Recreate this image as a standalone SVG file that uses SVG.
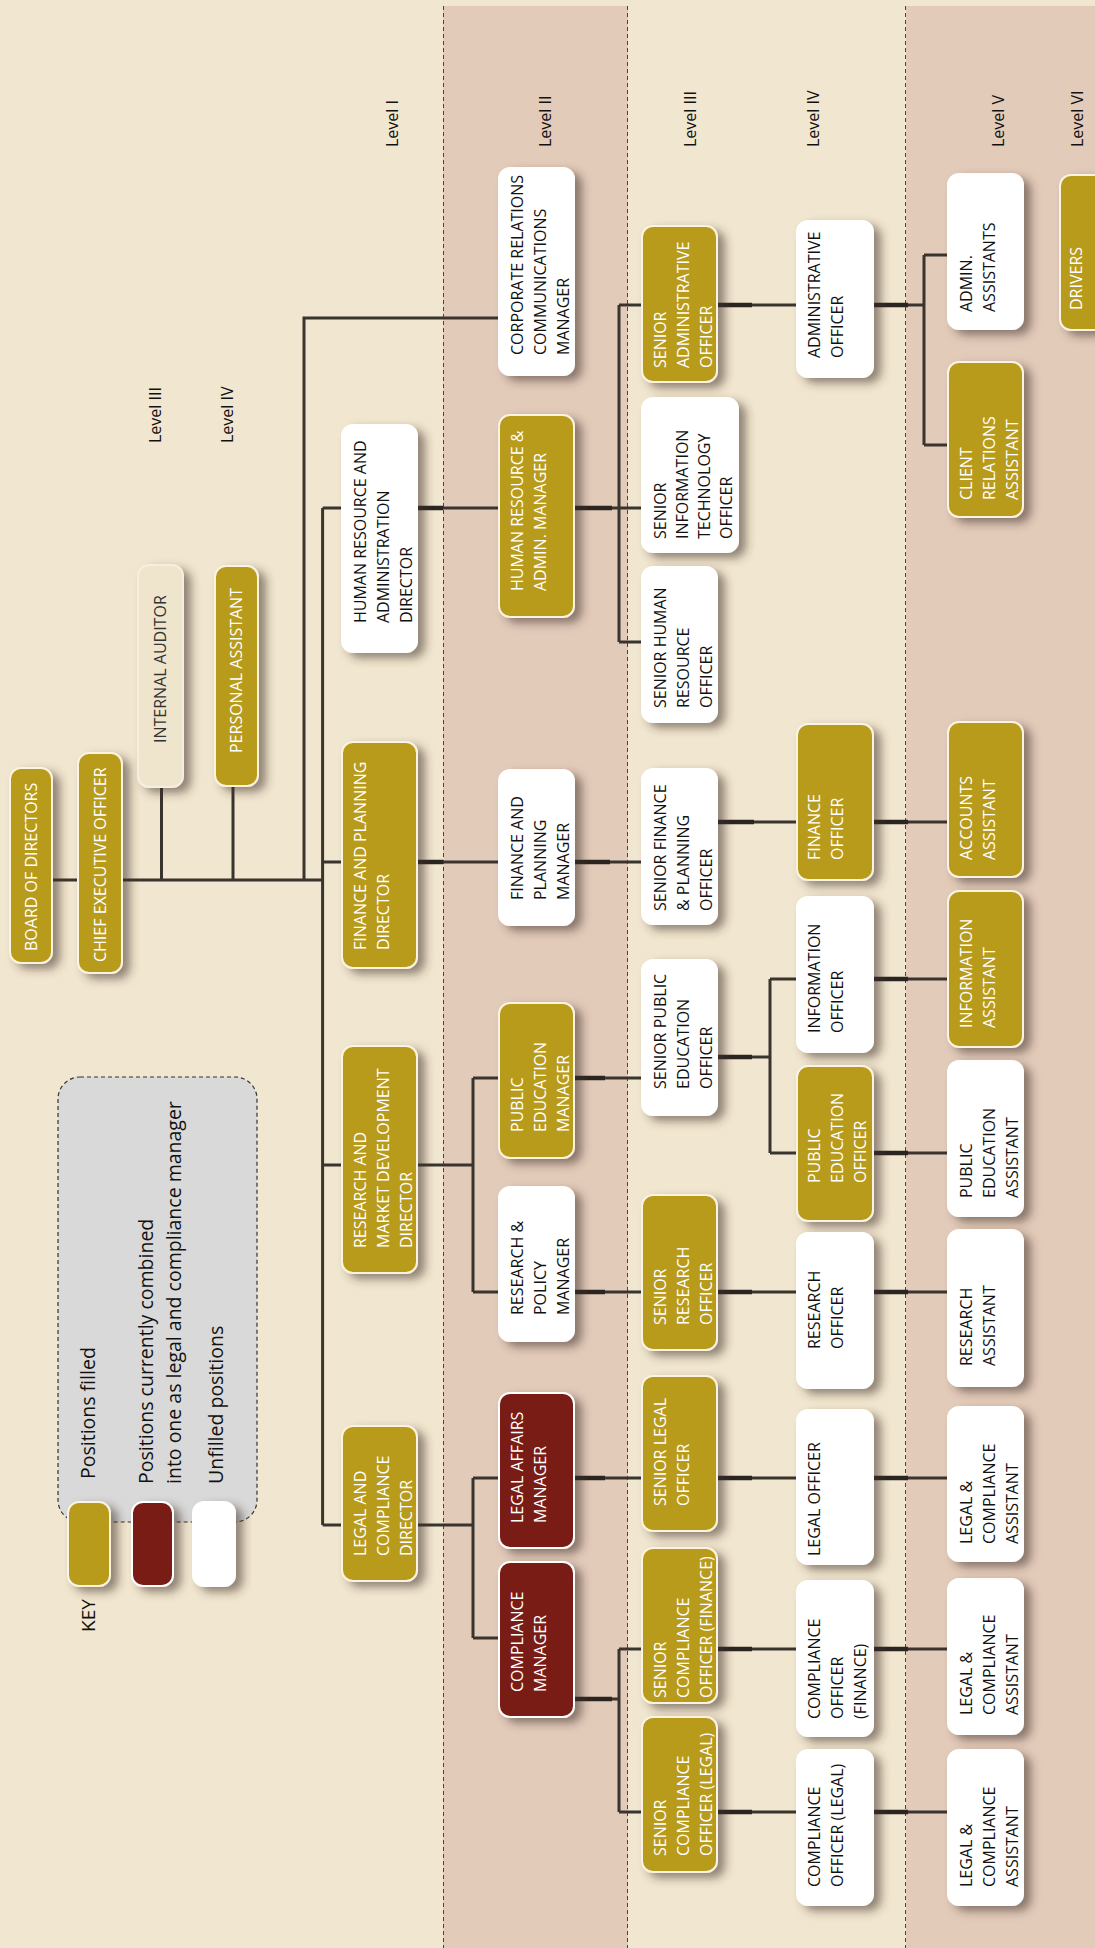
<svg xmlns="http://www.w3.org/2000/svg" width="1095" height="1948" viewBox="0 0 1095 1948">
<defs>
<filter id="sh" x="-40%" y="-20%" width="180%" height="140%">
<feDropShadow dx="7" dy="5" stdDeviation="5" flood-color="#3d3025" flood-opacity="0.55"/>
</filter>
<style>
.band{fill:#e3cbba}
.dl{stroke:#4a4440;stroke-width:1;stroke-dasharray:4 3;fill:none}
.node rect{rx:11px;ry:11px;stroke-width:2;filter:url(#sh)}
.gold rect{fill:#b99b1f;stroke:#fbf4e2}
.white rect{fill:#ffffff;stroke:#ffffff}
.maroon rect{fill:#7a1e19;stroke:#ffffff}
.cream rect{fill:#efe5cd;stroke:#f6efdf}
.node text{font-family:"Open Sans","Liberation Sans",sans-serif;font-size:16px}
.gold text,.maroon text{fill:#ffffff}
.white text{fill:#111111}
.cream text{fill:#333333}
.lvl{font-family:"Open Sans","Liberation Sans",sans-serif;font-size:16px;fill:#111}
.key{font-family:"Open Sans","Liberation Sans",sans-serif;font-size:19.5px;fill:#111}
#connectors path{stroke:#3a342e;stroke-width:3;fill:none}
#connectors path.thick{stroke:#2a2520;stroke-width:4.5}
</style>
</defs>
<rect width="1095" height="1948" fill="#f1e6cf"/>
<rect class="band" x="443" y="6" width="185" height="1942"/>
<rect class="band" x="906" y="6" width="189" height="1942"/>
<path class="dl" d="M443.5 6V1948M627.5 6V1948M905.5 6V1948"/>

<g id="levels">
<text class="lvl" transform="translate(398,147) rotate(-90)">Level I</text>
<text class="lvl" transform="translate(551,147) rotate(-90)">Level II</text>
<text class="lvl" transform="translate(696,147) rotate(-90)">Level III</text>
<text class="lvl" transform="translate(819,147) rotate(-90)">Level IV</text>
<text class="lvl" transform="translate(1004,147) rotate(-90)">Level V</text>
<text class="lvl" transform="translate(1083,147) rotate(-90)">Level VI</text>
<text class="lvl" transform="translate(161,443) rotate(-90)">Level III</text>
<text class="lvl" transform="translate(233,443) rotate(-90)">Level IV</text>
</g>

<g id="key">
<rect x="58" y="1077" width="199" height="445" rx="22" fill="#d9d9d9" stroke="#333" stroke-width="1.2" stroke-dasharray="4 3"/>
<g class="node gold"><rect x="68" y="1502" width="42" height="84"/></g>
<g class="node maroon"><rect x="132" y="1502" width="41" height="84"/></g>
<g class="node white"><rect x="193" y="1502" width="42" height="84"/></g>
<text class="key" transform="translate(95,1479) rotate(-90)">Positions filled</text>
<text class="key" transform="translate(153,1484) rotate(-90)">Positions currently combined<tspan x="0" y="28">into one as legal and compliance manager</tspan></text>
<text class="key" transform="translate(223,1484) rotate(-90)">Unfilled positions</text>
<text class="key" style="font-size:19px" transform="translate(95,1632) rotate(-90)">KEY</text>
</g>

<g id="connectors">
<path d="M52 880H78"/>
<path d="M122 880H322.6"/>
<path d="M161.5 787V880"/>
<path d="M233 786V880"/>
<path d="M304 880V318H499"/>
<path d="M322.6 508V1525"/>
<path d="M322.6 508H342M322.6 862H342M322.6 1165H342M322.6 1525H342"/>
<path d="M417 508H499"/>
<path d="M417 862H499"/>
<path d="M417 1165H473M473 1078V1292M473 1078H499M473 1292H499"/>
<path d="M417 1525H473M473 1478V1638M473 1478H499M473 1638H499"/>
<path d="M574 508H642M619 305V642M619 305H642M619 642H642"/>
<path d="M574 862H642"/>
<path d="M574 1078H642"/>
<path d="M574 1292H642"/>
<path d="M574 1478H642"/>
<path d="M574 1699H619M619 1649V1812M619 1649H642M619 1812H642"/>
<path d="M717 305H797"/>
<path d="M717 822H797"/>
<path d="M717 1057H770M770 979V1153M770 979H797M770 1153H797"/>
<path d="M717 1292H797"/>
<path d="M717 1478H797"/>
<path d="M717 1649H797"/>
<path d="M717 1812H797"/>
<path d="M873 305H924M924 255V445M924 255H948M924 445H948"/>
<path d="M873 822H948"/>
<path d="M873 979H948"/>
<path d="M873 1153H948"/>
<path d="M873 1292H948"/>
<path d="M873 1478H948"/>
<path d="M873 1649H948"/>
<path d="M873 1812H948"/>
<path class="thick" d="M417 508H443M417 862H443M574 508H612M574 862H610M574 1078H605M574 1292H605M574 1478H605M574 1699H612M717 305H752M717 822H754M717 1057H752M717 1292H752M717 1478H752M717 1649H752M717 1812H752M873 305H908M873 822H908M873 979H908M873 1153H908M873 1292H908M873 1478H908M873 1649H908M873 1812H908"/>
</g>

<g id="n-board" class="node gold"><rect x="10" y="768" width="42" height="195"/><text transform="translate(36.7,951) rotate(-90)">BOARD OF DIRECTORS</text></g>
<g id="n-ceo" class="node gold"><rect x="78" y="753" width="44" height="220"/><text transform="translate(105.7,962) rotate(-90)">CHIEF EXECUTIVE OFFICER</text></g>
<g id="n-auditor" class="node cream"><rect x="138" y="565" width="45" height="222"/><text transform="translate(166.2,743) rotate(-90)">INTERNAL AUDITOR</text></g>
<g id="n-pa" class="node gold"><rect x="215" y="566" width="43" height="220"/><text transform="translate(242.2,753) rotate(-90)">PERSONAL ASSISTANT</text></g>

<g id="n-hrdir" class="node white"><rect x="342" y="425" width="75" height="227"/><text transform="translate(365.5,623) rotate(-90)">HUMAN RESOURCE AND<tspan x="0" y="23">ADMINISTRATION</tspan><tspan x="0" y="46">DIRECTOR</tspan></text></g>
<g id="n-findir" class="node gold"><rect x="342" y="742" width="75" height="226"/><text transform="translate(365.5,950) rotate(-90)">FINANCE AND PLANNING<tspan x="0" y="23">DIRECTOR</tspan></text></g>
<g id="n-resdir" class="node gold"><rect x="342" y="1046" width="75" height="227"/><text transform="translate(365.5,1248) rotate(-90)">RESEARCH AND<tspan x="0" y="23">MARKET DEVELOPMENT</tspan><tspan x="0" y="46">DIRECTOR</tspan></text></g>
<g id="n-legdir" class="node gold"><rect x="342" y="1426" width="75" height="155"/><text transform="translate(365.5,1556) rotate(-90)">LEGAL AND<tspan x="0" y="23">COMPLIANCE</tspan><tspan x="0" y="46">DIRECTOR</tspan></text></g>

<g id="n-crc" class="node white"><rect x="499" y="168" width="75" height="207"/><text transform="translate(522.5,355) rotate(-90)">CORPORATE RELATIONS<tspan x="0" y="23">COMMUNICATIONS</tspan><tspan x="0" y="46">MANAGER</tspan></text></g>
<g id="n-hrmgr" class="node gold"><rect x="499" y="415" width="75" height="202"/><text transform="translate(522.5,591) rotate(-90)">HUMAN RESOURCE &amp;<tspan x="0" y="23">ADMIN. MANAGER</tspan></text></g>
<g id="n-finmgr" class="node white"><rect x="499" y="770" width="75" height="155"/><text transform="translate(522.5,900) rotate(-90)">FINANCE AND<tspan x="0" y="23">PLANNING</tspan><tspan x="0" y="46">MANAGER</tspan></text></g>
<g id="n-pemgr" class="node gold"><rect x="499" y="1003" width="75" height="155"/><text transform="translate(522.5,1132) rotate(-90)">PUBLIC<tspan x="0" y="23">EDUCATION</tspan><tspan x="0" y="46">MANAGER</tspan></text></g>
<g id="n-rpmgr" class="node white"><rect x="499" y="1187" width="75" height="154"/><text transform="translate(522.5,1315) rotate(-90)">RESEARCH &amp;<tspan x="0" y="23">POLICY</tspan><tspan x="0" y="46">MANAGER</tspan></text></g>
<g id="n-lamgr" class="node maroon"><rect x="499" y="1393" width="75" height="155"/><text transform="translate(522.5,1523) rotate(-90)">LEGAL AFFAIRS<tspan x="0" y="23">MANAGER</tspan></text></g>
<g id="n-cmgr" class="node maroon"><rect x="499" y="1562" width="75" height="155"/><text transform="translate(522.5,1692) rotate(-90)">COMPLIANCE<tspan x="0" y="23">MANAGER</tspan></text></g>

<g id="n-sao" class="node gold"><rect x="642" y="226" width="75" height="156"/><text transform="translate(665.5,368) rotate(-90)">SENIOR<tspan x="0" y="23">ADMINISTRATIVE</tspan><tspan x="0" y="46">OFFICER</tspan></text></g>
<g id="n-sito" class="node white"><rect x="642" y="398" width="96" height="154"/><text transform="translate(665.5,539) rotate(-90)">SENIOR<tspan x="0" y="22">INFORMATION</tspan><tspan x="0" y="44">TECHNOLOGY</tspan><tspan x="0" y="66">OFFICER</tspan></text></g>
<g id="n-shro" class="node white"><rect x="642" y="567" width="75" height="155"/><text transform="translate(665.5,708) rotate(-90)">SENIOR HUMAN<tspan x="0" y="23">RESOURCE</tspan><tspan x="0" y="46">OFFICER</tspan></text></g>
<g id="n-sfpo" class="node white"><rect x="642" y="769" width="75" height="155"/><text transform="translate(665.5,911) rotate(-90)">SENIOR FINANCE<tspan x="0" y="23">&amp; PLANNING</tspan><tspan x="0" y="46">OFFICER</tspan></text></g>
<g id="n-speo" class="node white"><rect x="642" y="960" width="75" height="155"/><text transform="translate(665.5,1089) rotate(-90)">SENIOR PUBLIC<tspan x="0" y="23">EDUCATION</tspan><tspan x="0" y="46">OFFICER</tspan></text></g>
<g id="n-sro" class="node gold"><rect x="642" y="1195" width="75" height="155"/><text transform="translate(665.5,1325) rotate(-90)">SENIOR<tspan x="0" y="23">RESEARCH</tspan><tspan x="0" y="46">OFFICER</tspan></text></g>
<g id="n-slo" class="node gold"><rect x="642" y="1376" width="75" height="155"/><text transform="translate(665.5,1506) rotate(-90)">SENIOR LEGAL<tspan x="0" y="23">OFFICER</tspan></text></g>
<g id="n-scof" class="node gold"><rect x="642" y="1548" width="75" height="155"/><text transform="translate(665.5,1698) rotate(-90)">SENIOR<tspan x="0" y="23">COMPLIANCE</tspan><tspan x="0" y="46">OFFICER (FINANCE)</tspan></text></g>
<g id="n-scol" class="node gold"><rect x="642" y="1717" width="75" height="155"/><text transform="translate(665.5,1856) rotate(-90)">SENIOR<tspan x="0" y="23">COMPLIANCE</tspan><tspan x="0" y="46">OFFICER (LEGAL)</tspan></text></g>

<g id="n-ao" class="node white"><rect x="797" y="221" width="76" height="156"/><text transform="translate(820,358) rotate(-90)">ADMINISTRATIVE<tspan x="0" y="23">OFFICER</tspan></text></g>
<g id="n-fo" class="node gold"><rect x="797" y="724" width="76" height="156"/><text transform="translate(820,860) rotate(-90)">FINANCE<tspan x="0" y="23">OFFICER</tspan></text></g>
<g id="n-io" class="node white"><rect x="797" y="897" width="76" height="155"/><text transform="translate(820,1033) rotate(-90)">INFORMATION<tspan x="0" y="23">OFFICER</tspan></text></g>
<g id="n-peo" class="node gold"><rect x="797" y="1066" width="76" height="155"/><text transform="translate(820,1183) rotate(-90)">PUBLIC<tspan x="0" y="23">EDUCATION</tspan><tspan x="0" y="46">OFFICER</tspan></text></g>
<g id="n-ro" class="node white"><rect x="797" y="1233" width="76" height="155"/><text transform="translate(820,1349) rotate(-90)">RESEARCH<tspan x="0" y="23">OFFICER</tspan></text></g>
<g id="n-lo" class="node white"><rect x="797" y="1410" width="76" height="154"/><text transform="translate(820,1556) rotate(-90)">LEGAL OFFICER</text></g>
<g id="n-cof" class="node white"><rect x="797" y="1581" width="76" height="155"/><text transform="translate(820,1719) rotate(-90)">COMPLIANCE<tspan x="0" y="23">OFFICER</tspan><tspan x="0" y="46">(FINANCE)</tspan></text></g>
<g id="n-col" class="node white"><rect x="797" y="1750" width="76" height="155"/><text transform="translate(820,1887) rotate(-90)">COMPLIANCE<tspan x="0" y="23">OFFICER (LEGAL)</tspan></text></g>

<g id="n-aa" class="node white"><rect x="948" y="174" width="75" height="155"/><text transform="translate(971.5,312) rotate(-90)">ADMIN.<tspan x="0" y="23">ASSISTANTS</tspan></text></g>
<g id="n-cra" class="node gold"><rect x="948" y="362" width="75" height="155"/><text transform="translate(971.5,500) rotate(-90)">CLIENT<tspan x="0" y="23">RELATIONS</tspan><tspan x="0" y="46">ASSISTANT</tspan></text></g>
<g id="n-acc" class="node gold"><rect x="948" y="722" width="75" height="155"/><text transform="translate(971.5,860) rotate(-90)">ACCOUNTS<tspan x="0" y="23">ASSISTANT</tspan></text></g>
<g id="n-ia" class="node gold"><rect x="948" y="891" width="75" height="156"/><text transform="translate(971.5,1028) rotate(-90)">INFORMATION<tspan x="0" y="23">ASSISTANT</tspan></text></g>
<g id="n-pea" class="node white"><rect x="948" y="1061" width="75" height="155"/><text transform="translate(971.5,1198) rotate(-90)">PUBLIC<tspan x="0" y="23">EDUCATION</tspan><tspan x="0" y="46">ASSISTANT</tspan></text></g>
<g id="n-ra" class="node white"><rect x="948" y="1230" width="75" height="156"/><text transform="translate(971.5,1366) rotate(-90)">RESEARCH<tspan x="0" y="23">ASSISTANT</tspan></text></g>
<g id="n-lca1" class="node white"><rect x="948" y="1407" width="75" height="154"/><text transform="translate(971.5,1544) rotate(-90)">LEGAL &amp;<tspan x="0" y="23">COMPLIANCE</tspan><tspan x="0" y="46">ASSISTANT</tspan></text></g>
<g id="n-lca2" class="node white"><rect x="948" y="1579" width="75" height="155"/><text transform="translate(971.5,1715) rotate(-90)">LEGAL &amp;<tspan x="0" y="23">COMPLIANCE</tspan><tspan x="0" y="46">ASSISTANT</tspan></text></g>
<g id="n-lca3" class="node white"><rect x="948" y="1750" width="75" height="155"/><text transform="translate(971.5,1887) rotate(-90)">LEGAL &amp;<tspan x="0" y="23">COMPLIANCE</tspan><tspan x="0" y="46">ASSISTANT</tspan></text></g>

<g id="n-drivers" class="node gold"><rect x="1060" y="175" width="46" height="155"/><text transform="translate(1082,310) rotate(-90)">DRIVERS</text></g>
</svg>
